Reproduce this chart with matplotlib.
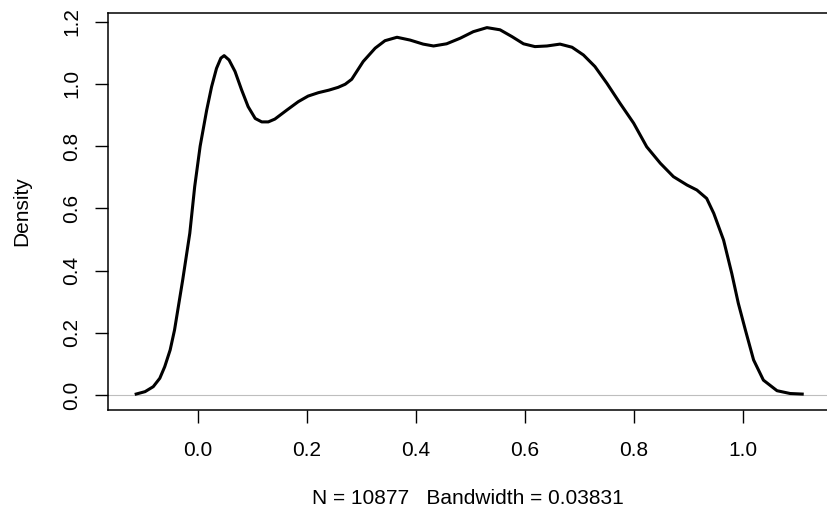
import matplotlib.pyplot as plt
import numpy as np

plt.rcParams['font.family'] = ['Liberation Sans', 'DejaVu Sans']

# density curve
xs = [-0.116, -0.097, -0.082, -0.070, -0.061, -0.051, -0.043, -0.036, -0.028, -0.015,
      -0.006, 0.004, 0.016, 0.025, 0.034, 0.042, 0.048, 0.057, 0.068, 0.080,
      0.092, 0.105, 0.117, 0.129, 0.141, 0.163, 0.184, 0.202, 0.221, 0.240,
      0.257, 0.270, 0.282, 0.303, 0.325, 0.343, 0.365, 0.389, 0.413, 0.432,
      0.456, 0.481, 0.505, 0.530, 0.554, 0.576, 0.597, 0.618, 0.640, 0.664,
      0.686, 0.707, 0.728, 0.750, 0.774, 0.799, 0.823, 0.848, 0.872, 0.897,
      0.915, 0.933, 0.946, 0.964, 0.979, 0.991, 1.004, 1.019, 1.037, 1.062,
      1.086, 1.111]
dens = [0.002, 0.011, 0.027, 0.054, 0.091, 0.145, 0.209, 0.284, 0.370, 0.520,
        0.670, 0.800, 0.916, 0.991, 1.050, 1.083, 1.091, 1.077, 1.040, 0.981,
        0.927, 0.889, 0.878, 0.878, 0.887, 0.916, 0.943, 0.961, 0.972, 0.980,
        0.989, 0.999, 1.015, 1.072, 1.115, 1.139, 1.150, 1.141, 1.128, 1.122,
        1.129, 1.147, 1.168, 1.181, 1.174, 1.152, 1.129, 1.120, 1.122, 1.128,
        1.118, 1.093, 1.056, 1.002, 0.938, 0.874, 0.798, 0.745, 0.702, 0.675,
        0.659, 0.632, 0.584, 0.498, 0.391, 0.295, 0.209, 0.113, 0.048, 0.014,
        0.005, 0.003]
xticks = [0.0, 0.2, 0.4, 0.6, 0.8, 1.0]
yticks = [0.0, 0.2, 0.4, 0.6, 0.8, 1.0, 1.2]
n_obs = 10877
bw = 0.03831

W, H = 827, 515
fig = plt.figure(figsize=(W / 100, H / 100), dpi=100)
ax = fig.add_axes([108 / W, 1 - 410 / H, (831 - 108) / W, (410 - 13) / H])

ax.axhline(0, color='#BEBEBE', lw=0.8, zorder=1)
ax.plot(xs, dens, color='black', lw=2.2, solid_joinstyle='round',
        solid_capstyle='butt', zorder=2)

ax.set_xlim(-0.165, 1.161)
ax.set_ylim(-0.048, 1.228)
ax.set_xticks(xticks)
ax.set_yticks(yticks)
ax.set_xticklabels([f'{v:.1f}' for v in xticks])
ax.set_yticklabels([f'{v:.1f}' for v in yticks], rotation=90, va='center')
ax.tick_params(axis='both', length=9.4, width=1.0, labelsize=15, colors='black')
ax.tick_params(axis='x', pad=13)
ax.tick_params(axis='y', pad=10)
for s in ax.spines.values():
    s.set_linewidth(1.1)
    s.set_color('black')

fig.text(468 / W, 1 - 498 / H, f'N = {n_obs}   Bandwidth = {bw}',
         ha='center', va='center', fontsize=15)
fig.text(22 / W, 1 - 211 / H, 'Density', rotation=90,
         ha='center', va='center', fontsize=15)

fig.savefig('out.png', dpi=100)
